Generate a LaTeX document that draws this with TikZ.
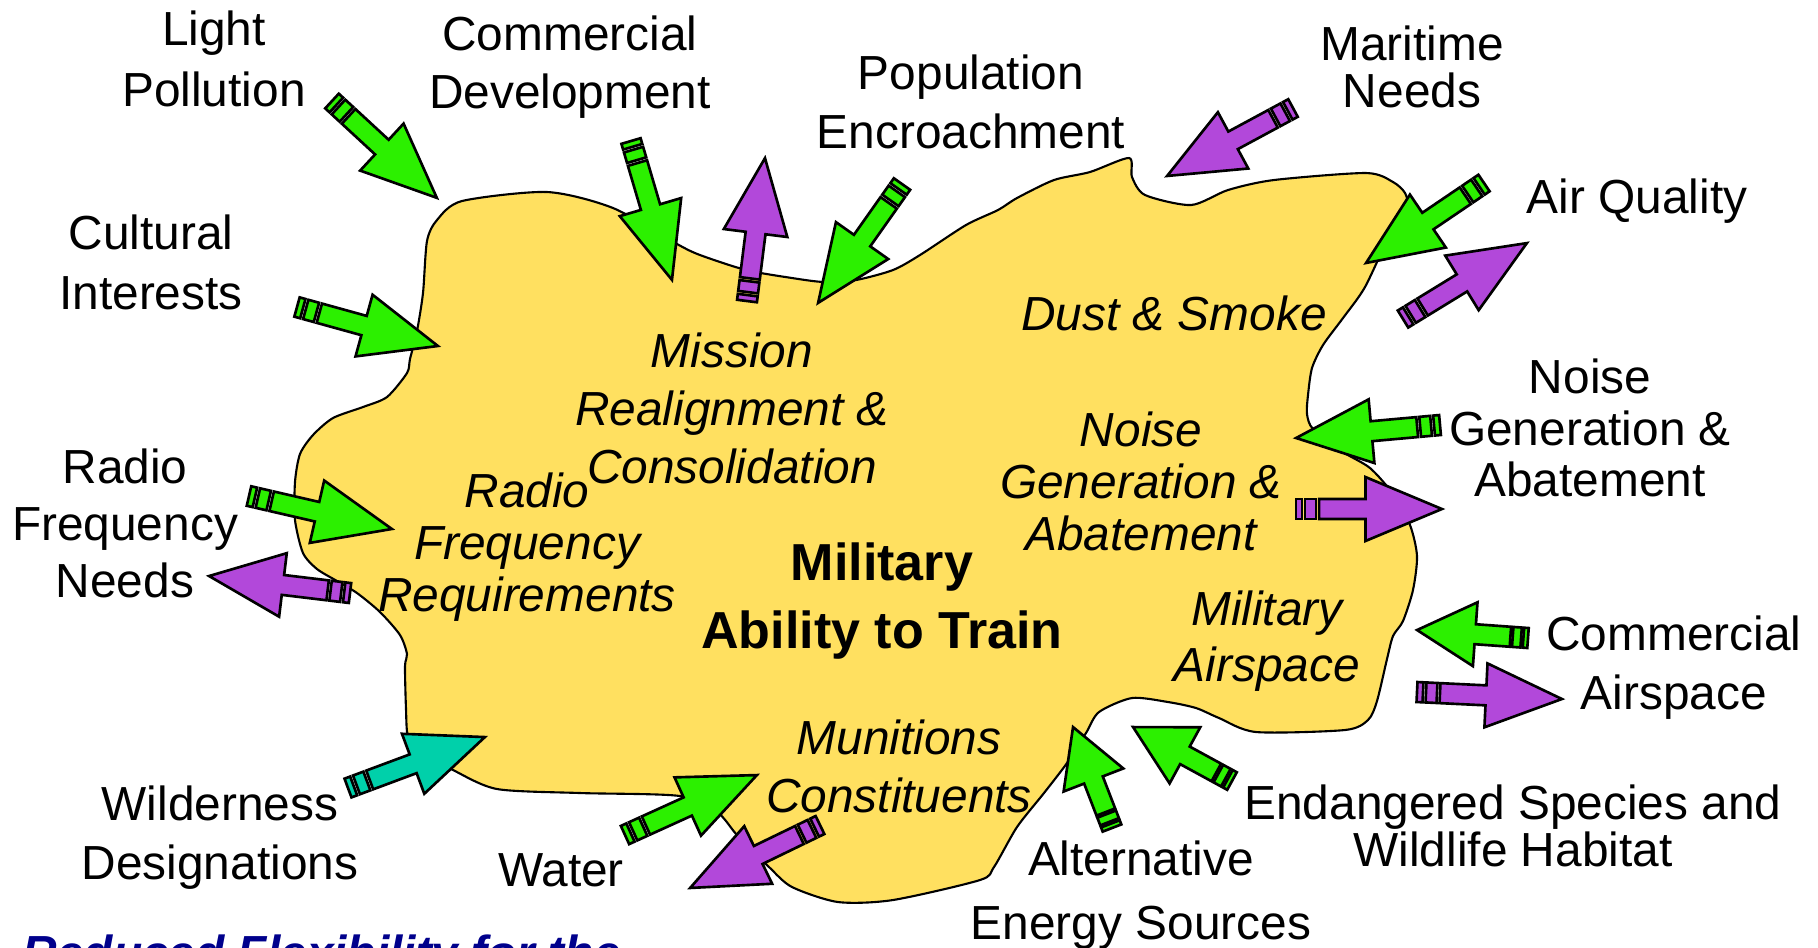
\documentclass[tikz,border=0pt]{standalone}
\usepackage{fontspec}
\setmainfont{Liberation Sans}
\usetikzlibrary{calc}

\definecolor{blobyellow}{RGB}{255,224,96}
\definecolor{arrgreen}{RGB}{44,240,0}
\definecolor{arrpurple}{RGB}{178,72,218}
\definecolor{arrteal}{RGB}{0,208,170}
\definecolor{titleblue}{RGB}{0,0,140}

\tikzset{
  arrowline/.style={draw=black, line width=0.75pt, line join=miter},
  blob/.style={draw=black, line width=0.6pt, fill=blobyellow},
  lbl/.style={align=center, font=\fontsize{13.6}{#1}\selectfont},
  lbl/.default=17,
  innertxt/.style={align=center, font=\fontsize{13.6}{#1}\selectfont\itshape},
  innertxt/.default=15.5,
  maintxt/.style={align=center, font=\fontsize{14.8}{19.4}\selectfont\bfseries}
}

% striped block arrow: fill colour, tail, head
\newcommand\stripearrow[3]{%
  \path let \p1=($(#3)-(#2)$) in
    \pgfextra{%
      \pgfmathparse{atan2(\y1,\x1)}\xdef\arrang{\pgfmathresult}%
      \pgfmathparse{veclen(\x1,\y1)/41.2549}\xdef\arrscl{\pgfmathresult}%
    };
  \begin{scope}[shift={(#2)}, rotate=\arrang, xscale=\arrscl, x=0.01cm, y=0.01cm]
    \draw[arrowline, fill=#1] (0,-10) rectangle (6,10);
    \draw[arrowline, fill=#1] (9,-10) rectangle (20,10);
    \draw[arrowline, fill=#1] (23,-10) -- (69,-10) -- (69,-32) -- (145,0)
      -- (69,32) -- (69,10) -- (23,10) -- cycle;
  \end{scope}}

\begin{document}
\begin{tikzpicture}[x=0.01cm, y=-0.01cm]
  \useasboundingbox (0,0) rectangle (1818,947);

  % Blob
  \draw[blob] plot[smooth cycle, tension=0.45] coordinates {
    (427,241) (437,220) (462,201) (547,192) (613,208) (677,244) (700,255)
    (746,270) (792,278) (824,282) (856,280) (893,270) (920,255) (966,225)
    (998,210) (1017,198) (1054,180) (1090,172) (1129,158) (1132,177)
    (1145,195) (1191,205) (1228,190) (1274,180) (1366,173) (1393,182)
    (1405,193) (1407,207) (1391,232) (1365,287) (1343,318) (1323,345)
    (1312,368) (1308,395) (1307,414) (1313,429) (1343,452) (1370,468)
    (1393,494) (1410,525) (1417,556) (1413,590) (1403,621) (1393,636)
    (1387,659) (1377,701) (1368,720) (1345,730) (1256,732) (1219,718)
    (1196,708) (1168,702) (1132,698) (1099,712) (1086,733) (1067,763)
    (1044,793) (1017,827) (994,867) (980,880) (893,900) (838,902)
    (792,887) (769,867) (737,835) (718,813) (680,796) (580,793) (497,789)
    (453,770) (420,752) (408,737) (406,709) (405,666) (407,654) (400,635)
    (380,612) (357,593) (337,581) (317,569) (303,553) (295,520) (295,482)
    (300,454) (313,435) (333,418) (363,407) (387,397) (407,373) (410,359)
    (417,331) (423,293)};

  % Arrows
  \coordinate (lightT) at (332,101);   \coordinate (lightH) at (437,198);
  \coordinate (comdevT) at (631,141);  \coordinate (comdevH) at (672,280);
  \coordinate (missT) at (747,301);    \coordinate (missH) at (765,158);
  \coordinate (populT) at (902,184);   \coordinate (populH) at (818,303);
  \coordinate (maritT) at (1293,108);  \coordinate (maritH) at (1167,176);
  \coordinate (airinT) at (1484,183);  \coordinate (airinH) at (1366,263);
  \coordinate (airoutT) at (1403,319); \coordinate (airoutH) at (1527,243);
  \coordinate (cultT) at (297,307);    \coordinate (cultH) at (438,346);
  \coordinate (noiseinT) at (1440,425);  \coordinate (noiseinH) at (1296,438);
  \coordinate (noiseoutT) at (1296,509); \coordinate (noiseoutH) at (1442,509);
  \coordinate (rfinT) at (249,496);    \coordinate (rfinH) at (392,529);
  \coordinate (rfoutT) at (350,593);   \coordinate (rfoutH) at (209,576);
  \coordinate (casinT) at (1528,638);  \coordinate (casinH) at (1417,630);
  \coordinate (casoutT) at (1417,692); \coordinate (casoutH) at (1562,699);
  \coordinate (endangT) at (1232,781); \coordinate (endangH) at (1133,727);
  \coordinate (alterT) at (1112,828);  \coordinate (alterH) at (1073,727);
  \coordinate (munitT) at (820,825);   \coordinate (munitH) at (690,888);
  \coordinate (waterT) at (625,835);   \coordinate (waterH) at (757,775);
  \coordinate (wildT) at (348,788);    \coordinate (wildH) at (485,737);

  \stripearrow{arrgreen}{lightT}{lightH}
  \stripearrow{arrgreen}{comdevT}{comdevH}
  \stripearrow{arrpurple}{missT}{missH}
  \stripearrow{arrgreen}{populT}{populH}
  \stripearrow{arrpurple}{maritT}{maritH}
  \stripearrow{arrgreen}{airinT}{airinH}
  \stripearrow{arrpurple}{airoutT}{airoutH}
  \stripearrow{arrgreen}{cultT}{cultH}
  \stripearrow{arrgreen}{noiseinT}{noiseinH}
  \stripearrow{arrpurple}{noiseoutT}{noiseoutH}
  \stripearrow{arrgreen}{rfinT}{rfinH}
  \stripearrow{arrpurple}{rfoutT}{rfoutH}
  \stripearrow{arrgreen}{casinT}{casinH}
  \stripearrow{arrpurple}{casoutT}{casoutH}
  \stripearrow{arrgreen}{endangT}{endangH}
  \stripearrow{arrgreen}{alterT}{alterH}
  \stripearrow{arrpurple}{munitT}{munitH}
  \stripearrow{arrgreen}{waterT}{waterH}
  \stripearrow{arrteal}{wildT}{wildH}

  % Labels outside
  \node[lbl=17.4] (lightlbl) at (214,59) {Light\\Pollution};
  \node[lbl=16.6] (comdevlbl) at (570,67) {Commercial\\Development};
  \node[lbl=16.8] (populbl) at (971,102) {Population\\Encroachment};
  \node[lbl=13.2] (maritlbl) at (1412,67) {Maritime\\Needs};
  \node[lbl] (airlbl) at (1637,201) {Air Quality};
  \node[lbl=17.1] (cultlbl) at (151,262) {Cultural\\Interests};
  \node[lbl=16.2] (rflbl) at (125,523) {Radio\\Frequency\\Needs};
  \node[lbl=14.7] (noiselbl) at (1590,428) {Noise\\Generation \&\\Abatement};
  \node[lbl=16.8] (caslbl) at (1674,668) {Commercial\\Airspace};
  \node[lbl=13.5] (endanglbl) at (1513,826) {Endangered Species and\\Wildlife Habitat};
  \node[lbl=18.2] (alterlbl) at (1141,895) {Alternative\\Energy Sources};
  \node[lbl] (waterlbl) at (561,870) {Water};
  \node[lbl=16.8] (wildlbl) at (220,838) {Wilderness\\Designations};

  % Labels inside
  \node[innertxt=16.5] (misstxt) at (732,408) {Mission\\Realignment \&\\Consolidation};
  \node[innertxt=14.8] (rftxt) at (527,547) {Radio\\Frequency\\Requirements};
  \node[innertxt] (dusttxt) at (1174,313) {Dust \& Smoke};
  \node[innertxt=14.8] (noisetxt) at (1141,481) {Noise\\Generation \&\\Abatement};
  \node[innertxt=15.8] (airsptxt) at (1267,641) {Military\\Airspace};
  \node[innertxt=16.5] (munittxt) at (899,766) {Munitions\\Constituents};
  \node[maintxt] (maintxt) at (882,601) {Military\\Ability to Train};

  % Title (cut by the page edge)
  \node[anchor=base west, inner sep=0pt, text=titleblue,
        font=\fontsize{13.6}{16}\selectfont\bfseries\itshape] (title) at (22,969)
        {Reduced Flexibility for the};
\end{tikzpicture}
\end{document}
